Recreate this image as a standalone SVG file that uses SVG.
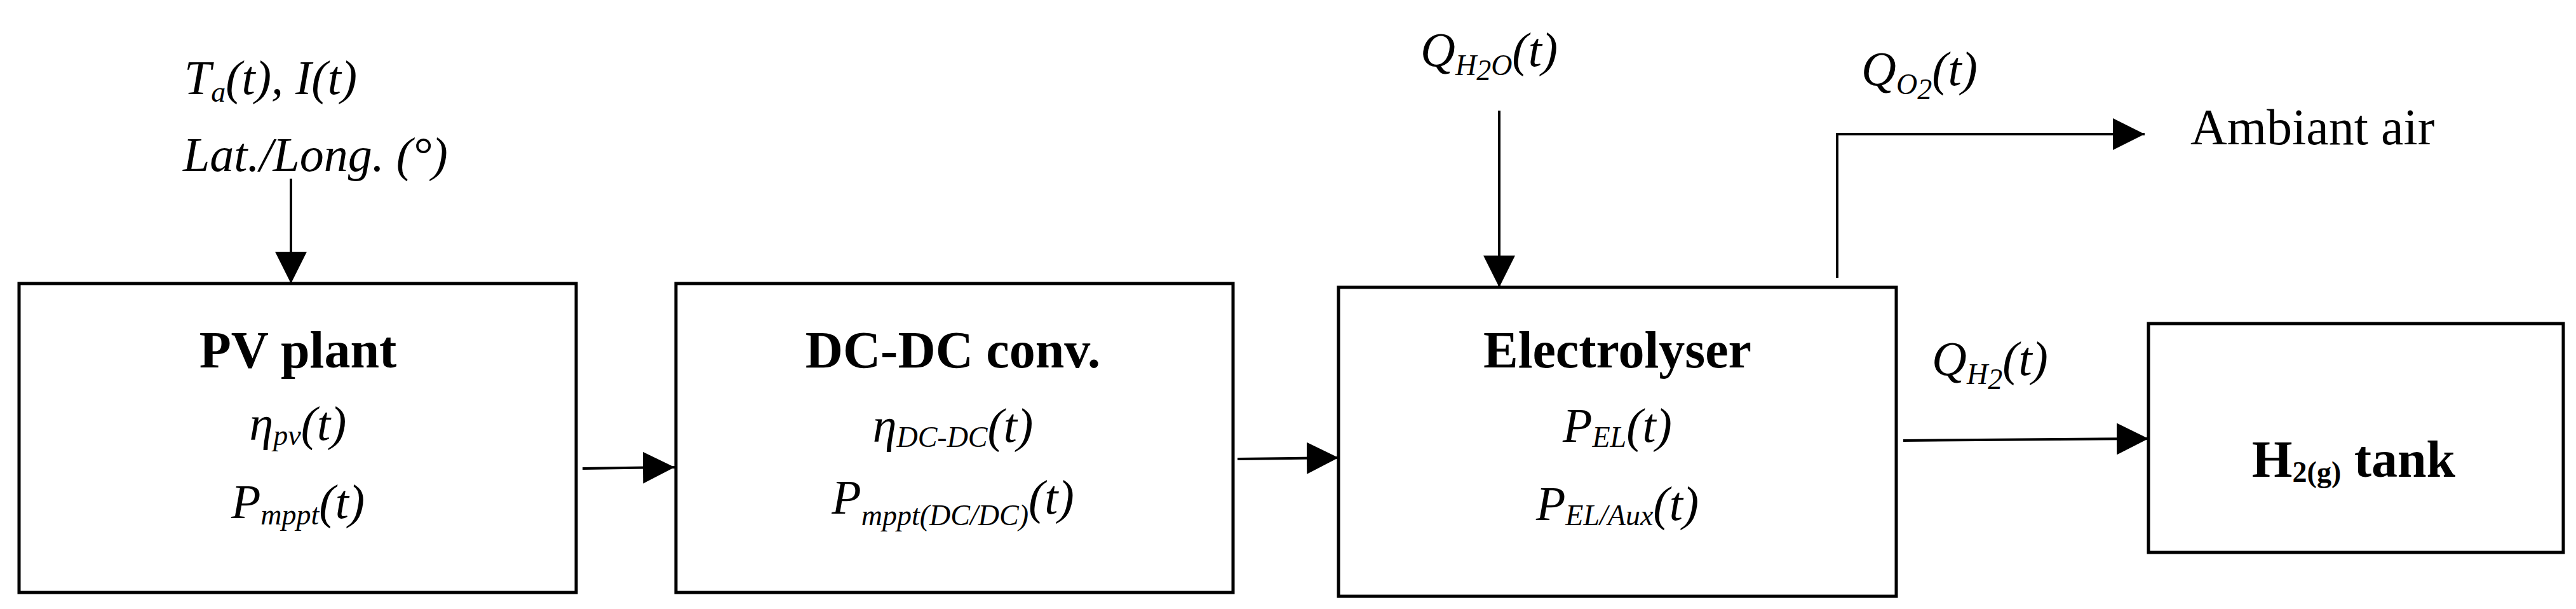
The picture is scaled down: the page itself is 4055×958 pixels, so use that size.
<svg xmlns="http://www.w3.org/2000/svg" width="4055" height="958" viewBox="0 0 4055 958">
<style>
.box{fill:#fff;stroke:#000;stroke-width:5}
.ln{fill:none;stroke:#000;stroke-width:4}
.t{font-family:"Liberation Serif",serif;font-weight:bold;font-size:82px;text-anchor:middle}
.m{font-family:"Liberation Serif",serif;font-style:italic;font-size:76px}
.c{text-anchor:middle}
.s{font-size:46px}
.a{font-family:"Liberation Serif",serif;font-size:80px}
</style>
<defs>
<marker id="arr" viewBox="0 0 10 10" refX="10" refY="5" markerWidth="50" markerHeight="50" markerUnits="userSpaceOnUse" orient="auto"><path d="M0,0 L10,5 L0,10 z"/></marker></defs>
<g id="connectors">
<path class="ln" d="M458,281 V446" marker-end="url(#arr)"/>
<path class="ln" d="M917,737 L1062,735" marker-end="url(#arr)"/>
<path class="ln" d="M1948,722 L2107,720" marker-end="url(#arr)"/>
<path class="ln" d="M2360,174 V452" marker-end="url(#arr)"/>
<path class="ln" d="M2892,437 V211 H3376" marker-end="url(#arr)"/>
<path class="ln" d="M2996,693 L3382,690" marker-end="url(#arr)"/>
</g>
<g id="inputs">
<text class="m" x="290" y="148">T<tspan class="s" dy="12">a</tspan><tspan dy="-12">(t), I(t)</tspan></text>
<text class="m" x="288" y="269">Lat./Long. (°)</text>
<text class="m" x="2236" y="104">Q<tspan class="s" dy="14">H</tspan><tspan class="s" dy="8" font-size="32">2</tspan><tspan class="s" dy="-8">O</tspan><tspan dy="-14">(t)</tspan></text>
<text class="m" x="2930" y="134">Q<tspan class="s" dy="14">O</tspan><tspan class="s" dy="8" font-size="32">2</tspan><tspan dy="-22">(t)</tspan></text>
<text class="m" x="3041" y="590">Q<tspan class="s" dy="14">H</tspan><tspan class="s" dy="8" font-size="32">2</tspan><tspan dy="-22">(t)</tspan></text>
<text class="a" x="3448" y="227">Ambiant air</text>
</g>
<g id="pv">
<rect class="box" x="30" y="446" width="877" height="486"/>
<text class="t" x="469" y="578">PV plant</text>
<text class="m c" x="469" y="692">η<tspan class="s" dy="8">pv</tspan><tspan dy="-8">(t)</tspan></text>
<text class="m c" x="469" y="815">P<tspan class="s" dy="10">mppt</tspan><tspan dy="-10">(t)</tspan></text>
</g>
<g id="dcdc">
<rect class="box" x="1064" y="446" width="877" height="486"/>
<text class="t" x="1500" y="578">DC-DC conv.</text>
<text class="m c" x="1500" y="695">η<tspan class="s" dy="8">DC-DC</tspan><tspan dy="-8">(t)</tspan></text>
<text class="m c" x="1500" y="808">P<tspan class="s" dy="18">mppt(DC/DC)</tspan><tspan dy="-18">(t)</tspan></text>
</g>
<g id="electrolyser">
<rect class="box" x="2107" y="452" width="878" height="486"/>
<text class="t" x="2546" y="578">Electrolyser</text>
<text class="m c" x="2546" y="695">P<tspan class="s" dy="8">EL</tspan><tspan dy="-8">(t)</tspan></text>
<text class="m c" x="2546" y="818">P<tspan class="s" dy="8">EL/Aux</tspan><tspan dy="-8">(t)</tspan></text>
</g>
<g id="tank">
<rect class="box" x="3382" y="509" width="653" height="360"/>
<text class="t" x="3705" y="750">H<tspan class="s" dy="8">2(g)</tspan><tspan dy="-8"> tank</tspan></text>
</g>
</svg>
